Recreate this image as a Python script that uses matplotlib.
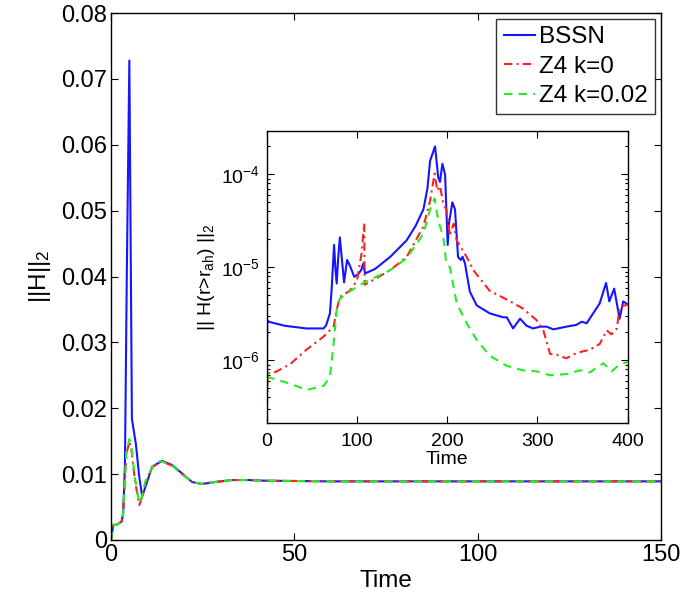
import matplotlib
matplotlib.use("Agg")
import matplotlib.pyplot as plt
from matplotlib.ticker import LogLocator, NullFormatter, FixedLocator

plt.rcParams['font.family'] = ['Liberation Sans', 'DejaVu Sans']
plt.rcParams['mathtext.fontset'] = 'custom'
plt.rcParams['mathtext.rm'] = 'Liberation Sans'
plt.rcParams['mathtext.it'] = 'Liberation Sans:italic'

# ---- main panel: ||H||_2 vs time ----
t_bssn = [0, 0.6, 1.5, 2.9, 3.3, 3.8, 4.3, 5.0, 5.7, 6.8, 7.7, 8.5, 9.4, 11.2,
          13.9, 16.6, 19.4, 22.1, 24.8, 28.4, 33, 37.5, 42, 60, 80, 100, 120, 150]
h_bssn = [0, 0.0023, 0.0023, 0.0028, 0.004, 0.0114, 0.04, 0.0728, 0.0184,
          0.0145, 0.0096, 0.0066, 0.0081, 0.0111, 0.0120, 0.0114, 0.0101,
          0.0088, 0.0085, 0.0088, 0.0091, 0.0091, 0.0090, 0.0089, 0.0089,
          0.0089, 0.0089, 0.0089]

t_z4 = [0, 0.6, 1.5, 2.9, 3.3, 4.2, 5.0, 5.6, 6.5, 7.7, 8.5, 9.4, 11.2, 13.5,
        16.6, 19.4, 22.1, 24.8, 28.4, 33, 37.5, 42, 60, 100, 150]
h_z4k0 = [0, 0.0023, 0.0023, 0.0028, 0.004, 0.0131, 0.0149, 0.0136, 0.0091,
          0.0053, 0.0065, 0.0088, 0.0110, 0.0120, 0.0113, 0.0100, 0.0088,
          0.0085, 0.0088, 0.0091, 0.0091, 0.0090, 0.0089, 0.0089, 0.0089]
h_z4k002 = [0, 0.0023, 0.0023, 0.0028, 0.004, 0.0134, 0.0153, 0.0139, 0.0095,
            0.0056, 0.0067, 0.0089, 0.0110, 0.0120, 0.0113, 0.0100, 0.0088,
            0.0085, 0.0088, 0.0091, 0.0091, 0.0090, 0.0089, 0.0089, 0.0089]

# ---- inset: ||H(r>r_ah)||_2 vs time (log scale) ----
ti_bssn = [0, 0.5, 2, 20, 44, 63, 66, 70, 72, 74.6, 76, 77.5, 79, 81, 83, 85.7,
           89, 92, 97, 101.6, 105, 107, 109, 120, 136.6, 155, 165, 173.6, 178,
           181, 186.5, 190, 192, 194.6, 197.6, 200.5, 202, 205.7, 208.6, 212,
           215, 217, 219.7, 225, 232.6, 247, 262, 266, 273, 280.7, 288, 295,
           303, 310, 317.6, 332, 343, 349, 354.5, 369, 376, 379.6, 385, 391,
           395, 400]
hi_bssn = [2.1e-7, 2.7e-6, 2.6e-6, 2.35e-6, 2.2e-6, 2.2e-6, 2.4e-6, 3.2e-6,
           6e-6, 1.74e-5, 1.0e-5, 6.7e-6, 1.2e-5, 2.1e-5, 1.3e-5, 6.9e-6,
           1.2e-5, 1.05e-5, 7.9e-6, 8.5e-6, 9.5e-6, 1.1e-5, 8.6e-6, 9.6e-6,
           1.29e-5, 1.95e-5, 2.8e-5, 4.2e-5, 7e-5, 1.4e-4, 2.0e-4, 9.3e-5,
           8.3e-5, 1.3e-4, 1.0e-4, 1.74e-5, 3e-5, 5e-5, 4.2e-5, 1.29e-5,
           1.2e-5, 1.3e-5, 1.1e-5, 5.5e-6, 3.9e-6, 3.2e-6, 2.9e-6, 2.9e-6,
           2.2e-6, 2.8e-6, 2.35e-6, 2.2e-6, 2.3e-6, 2.3e-6, 2.15e-6, 2.3e-6,
           2.4e-6, 2.6e-6, 2.5e-6, 4.1e-6, 6.8e-6, 4.3e-6, 5.9e-6, 2.8e-6,
           4.3e-6, 4.0e-6]

ti_z4k0 = [0, 1, 10, 26, 44, 63, 72, 74, 77.5, 81, 92, 100, 105, 108, 108.5,
           120, 136.6, 155, 173.6, 181, 186, 189, 192, 195.7, 199, 203, 207,
           210.5, 221.6, 229, 247, 266, 284, 299, 306.5, 314, 321, 332, 343.5,
           358, 369, 376.7, 382, 388, 391, 400]
hi_z4k0 = [2.1e-7, 7.2e-7, 7.5e-7, 9.1e-7, 1.3e-6, 1.8e-6, 2.2e-6, 2.3e-6,
           3.5e-6, 4.8e-6, 5.6e-6, 7.2e-6, 1.4e-5, 2.95e-5, 6.5e-6, 7.5e-6,
           9.3e-6, 1.29e-5, 2.75e-5, 5.2e-5, 1.02e-4, 6.7e-5, 7.5e-5, 4.8e-5,
           4.2e-5, 2.2e-5, 2.95e-5, 1.95e-5, 1.29e-5, 9.3e-6, 5.6e-6, 4.5e-6,
           3.6e-6, 2.7e-6, 2.1e-6, 1.17e-6, 1.15e-6, 1.05e-6, 1.2e-6, 1.3e-6,
           1.5e-6, 2.1e-6, 1.9e-6, 2.2e-6, 3.7e-6, 4.0e-6]

ti_z4k002 = [0, 0.5, 1, 26, 44, 63, 70, 74, 77.5, 81, 92, 107, 136.6, 155,
             173.6, 181, 186, 190, 195.7, 199, 203, 207, 210.5, 221.6, 232.6,
             247, 266, 284, 299, 314, 332, 347, 358, 373, 382, 391, 400]
hi_z4k002 = [2.1e-7, 7.8e-7, 6.6e-7, 5.6e-7, 4.8e-7, 5.3e-7, 6.6e-7, 1.5e-6,
             3.5e-6, 4.6e-6, 5.5e-6, 6.8e-6, 9.3e-6, 1.25e-5, 2.3e-5, 4.2e-5,
             5.5e-5, 3.2e-5, 2.1e-5, 1.1e-5, 1.0e-5, 6.2e-6, 4.1e-6, 2.5e-6,
             1.66e-6, 1.12e-6, 8.7e-7, 7.8e-7, 7.6e-7, 6.9e-7, 7.1e-7, 7.8e-7,
             7.4e-7, 9.3e-7, 7.6e-7, 9.0e-7, 9.6e-7]

labels = ["BSSN", "Z4 k=0", "Z4 k=0.02"]
main_xticks = [0, 50, 100, 150]
main_yticks = [0, 0.01, 0.02, 0.03, 0.04, 0.05, 0.06, 0.07, 0.08]
main_yticklabels = ["0", "0.01", "0.02", "0.03", "0.04", "0.05", "0.06", "0.07", "0.08"]
inset_xticks = [0, 100, 200, 300, 400]

blue, red, green = "#1515ff", "#ff2020", "#22ee22"
dashdot = (0, (4, 2, 1, 2))
dashed = (0, (4, 3))

fig = plt.figure(figsize=(6.84, 5.96), dpi=100)
ax = fig.add_axes([0.1623, 0.094, 0.8041, 0.884])

ax.plot(t_bssn, h_bssn, color=blue, lw=1.5, label=labels[0])
ax.plot(t_z4, h_z4k0, color=red, lw=1.5, ls=dashdot, label=labels[1])
ax.plot(t_z4, h_z4k002, color=green, lw=1.5, ls=dashed, label=labels[2])

ax.set_xlim(0, 150)
ax.set_ylim(0, 0.08)
ax.set_xticks(main_xticks)
ax.set_yticks(main_yticks)
ax.set_yticklabels(main_yticklabels)
ax.tick_params(direction="in", top=True, right=True, labelsize=17, length=5,
               width=0.8, pad=3)
for s in ax.spines.values():
    s.set_linewidth(1.0)
ax.set_xlabel("Time", fontsize=17.5, labelpad=3)
ax.set_ylabel(r"||H||$_2$", fontsize=17.5, labelpad=6)

leg = ax.legend(loc="upper right", fontsize=17.5, frameon=True, fancybox=False,
                handlelength=1.3, handletextpad=0.15, borderpad=0.3,
                labelspacing=0.3, borderaxespad=0.25, edgecolor="black")
leg.get_frame().set_linewidth(1.0)

# inset
axi = fig.add_axes([0.39, 0.2898, 0.5277, 0.4909])
axi.plot(ti_bssn, hi_bssn, color=blue, lw=1.5)
axi.plot(ti_z4k0, hi_z4k0, color=red, lw=1.5, ls=dashdot)
axi.plot(ti_z4k002, hi_z4k002, color=green, lw=1.5, ls=dashed)
axi.set_yscale("log")
axi.set_xlim(0, 400)
axi.set_ylim(2.1e-7, 2.95e-4)
axi.set_xticks(inset_xticks)
axi.yaxis.set_major_locator(FixedLocator([1e-6, 1e-5, 1e-4]))
axi.yaxis.set_minor_locator(LogLocator(base=10, subs=range(2, 10), numticks=20))
axi.yaxis.set_minor_formatter(NullFormatter())
axi.tick_params(which="both", direction="in", top=True, right=True, labelsize=14,
                width=0.8)
axi.tick_params(axis="x", pad=7)
axi.tick_params(axis="y", pad=5)
axi.tick_params(which="major", length=5)
axi.tick_params(which="minor", length=2.5)
for s in axi.spines.values():
    s.set_linewidth(1.0)
axi.set_xlabel("Time", fontsize=14, labelpad=1)
axi.set_ylabel(r"|| H(r>r$_{\rm ah}$) ||$_2$", fontsize=14, labelpad=3)

fig.savefig("out.png", dpi=100)
